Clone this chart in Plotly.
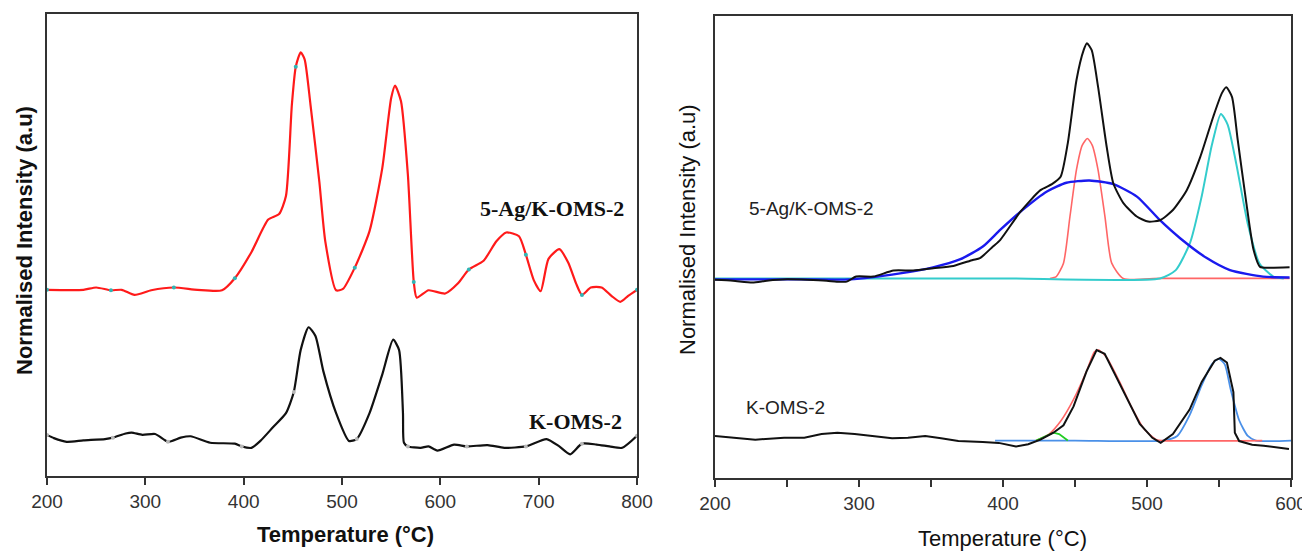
import plotly.graph_objects as go

# ---------------- Left panel data (T in °C, normalised intensity in % of plot height)
left_ag_T = [200, 237, 250, 265, 276, 289, 306, 329, 353, 378, 391, 408, 425, 436, 443, 449, 453, 458, 462, 468,
             477, 483, 494, 501, 513, 528, 541, 550, 554, 560, 567, 573, 576, 588, 605, 618, 629, 644, 657, 667,
             680, 687, 695, 702, 710, 721, 730, 738, 744, 753, 764, 774, 783, 791, 800]
left_ag_I = [40.3, 40.3, 40.8, 40.2, 40.3, 39.2, 40.2, 40.8, 40.3, 40.2, 42.8, 48.5, 55.5, 56.7, 60.6, 80.3, 88.6, 91.7, 90.2, 80.3,
             63.6, 50.8, 40.2, 40.5, 45.1, 53.0, 66.7, 81.8, 84.5, 81.1, 65.2, 42.0, 38.6, 40.2, 39.5, 41.7, 44.7, 46.6, 50.8, 52.7,
             51.9, 47.9, 42.4, 40.0, 47.0, 49.1, 46.2, 41.7, 39.2, 40.8, 40.8, 39.0, 37.7, 39.0, 40.3]

left_k_T = [200, 207, 220, 237, 259, 267, 280, 286, 297, 310, 323, 336, 346, 366, 391, 398, 408, 417, 430, 443,
            451, 458, 466, 473, 481, 494, 507, 515, 528, 541, 552, 558, 562, 563, 567, 580, 588, 597, 614, 627,
            648, 665, 687, 708, 721, 732, 744, 759, 772, 785, 800]
left_k_I = [8.9, 8.2, 7.4, 7.7, 8.0, 8.3, 9.2, 9.4, 8.9, 9.1, 7.4, 8.3, 8.6, 7.2, 7.0, 6.4, 6.1, 7.6, 10.6, 13.6,
            18.2, 27.3, 32.2, 30.3, 22.7, 13.6, 7.6, 8.0, 13.6, 22.0, 29.5, 27.3, 13.6, 7.2, 6.4, 6.1, 6.4, 5.5, 6.8, 6.4,
            6.7, 6.1, 6.4, 8.0, 6.4, 4.7, 7.0, 6.8, 6.4, 6.1, 8.7]

left_ag_mark_T = [200, 265, 329, 391, 453, 513, 573, 629, 687, 744, 800]
left_ag_mark_I = [40.3, 40.2, 40.8, 42.8, 88.6, 45.1, 42.0, 44.7, 47.9, 39.2, 40.3]
left_k_mark_T = [200, 267, 323, 398, 451, 515, 567, 627, 687, 744, 800]
left_k_mark_I = [8.9, 8.3, 7.4, 6.4, 18.2, 8.0, 6.4, 6.4, 6.4, 7.0, 8.7]

left_ticks = [200, 300, 400, 500, 600, 700, 800]

# ---------------- Right panel data
right_ag_T = [200, 212.5, 226, 236, 250, 264, 277.6, 284.5, 291.5, 298, 310, 324, 337.6, 351.6, 365.5, 379, 384, 393,
              398, 412, 426, 434, 440, 445, 451, 456, 458.3, 461.6, 466, 472, 476.6, 483.6, 492.9, 500.8, 509, 518,
              527.6, 537, 546, 552, 555, 559, 563, 569, 574, 578.5, 585, 599]
right_ag_I = [42.9, 42.7, 42.3, 42.7, 43.0, 42.9, 42.7, 42.5, 42.5, 43.6, 43.6, 44.9, 44.9, 45.4, 45.9, 47.2, 47.6, 50.1,
              51.5, 57.6, 62.3, 63.6, 65.2, 72.5, 86.1, 92.6, 94.1, 92.6, 84.7, 71.7, 63.8, 59.5, 56.6, 55.5, 55.8, 58.0,
              62.3, 69.5, 78.2, 83.3, 84.6, 82.5, 73.2, 59.5, 49.4, 45.7, 45.5, 45.6]

right_broad_T = [200, 260, 293.7, 328.5, 351.4, 370, 386, 398, 412, 430.5, 444, 460, 476.6, 493, 509, 523, 541.5, 557.6, 580.6, 599]
right_broad_I = [43.0, 43.0, 43.0, 44.3, 45.6, 47.3, 50.1, 53.7, 57.6, 62.0, 63.9, 64.4, 63.6, 60.9, 55.8, 51.9, 47.6, 45.0, 43.6, 43.4]

right_red_T = [432.6, 437, 442, 446.5, 451, 455, 458.6, 462, 466, 470.8, 475.5, 483.5, 510, 599]
right_red_I = [43.2, 43.6, 46.5, 56.6, 66.7, 72.0, 73.5, 72.0, 66.7, 56.6, 46.5, 43.2, 43.2, 43.2]

right_cyan_T = [200, 300, 400, 509, 520, 530, 538, 545, 551.3, 556, 562, 570, 578, 587.8, 595]
right_cyan_I = [43.2, 43.2, 43.2, 43.2, 45.0, 51.0, 61.0, 72.0, 78.8, 76.5, 68.0, 55.0, 46.5, 43.6, 43.2]

right_k_T = [200, 213.5, 228, 248, 262, 274, 285, 297, 311, 323, 334, 346, 357, 369, 386, 397, 409, 417.5, 426, 435,
             442, 449, 458, 465, 470.6, 478, 486.5, 495, 503.7, 509.5, 518, 529.6, 538, 547, 551, 555.5, 560, 560.5,
             561, 564, 573, 581, 590, 598.6]
right_k_I = [9.1, 8.7, 8.3, 8.7, 8.7, 9.5, 9.8, 9.5, 9.1, 8.6, 8.7, 9.1, 8.6, 8.0, 7.8, 7.6, 6.8, 7.3, 8.3, 9.8,
             11.4, 15.5, 23.1, 27.7, 26.9, 22.3, 17.0, 11.7, 8.7, 7.6, 9.5, 14.8, 20.8, 25.4, 26.0, 25.0, 18.6, 12.5,
             9.8, 8.0, 7.2, 7.0, 6.6, 6.3]

right_kred_T = [423, 432, 440.5, 449, 458, 463.5, 466.4, 472, 481, 489, 498, 506.6, 511, 580]
right_kred_I = [8.1, 9.5, 12.5, 17.0, 23.1, 27.3, 27.7, 26.1, 20.8, 15.5, 10.6, 8.3, 8.1, 8.1]

right_kblue_T = [394.5, 450, 511, 521, 529.6, 538, 545, 549.8, 554, 558, 564, 570, 575.6, 600]
right_kblue_I = [8.1, 8.1, 8.1, 9.1, 13.6, 20.1, 24.6, 25.8, 24.6, 19.3, 12.5, 9.1, 8.1, 8.1]

right_kgreen_T = [423, 429, 435, 439, 445]
right_kgreen_I = [8.1, 8.9, 9.8, 9.5, 8.1]

right_ticks = [200, 300, 400, 500, 600]

# ---------------- Page geometry (page body has an 8px margin; figure fills to the window edge)
OFF = 8
W = 1310 - OFF
H = 551 - OFF

def fx(px):
    return (px - OFF) / W

def fy(py):
    return (H - (py - OFF)) / H

# ---------------- Figure
fig = go.Figure()

# left panel
fig.add_trace(go.Scatter(x=left_ag_T, y=left_ag_I, mode="lines", line=dict(color="#ff1a1a", width=2.2, shape="spline", smoothing=0.6),
                         xaxis="x", yaxis="y", showlegend=False))
fig.add_trace(go.Scatter(x=left_ag_mark_T, y=left_ag_mark_I, mode="markers", marker=dict(color="#2fb5b5", size=4),
                         xaxis="x", yaxis="y", showlegend=False))
fig.add_trace(go.Scatter(x=left_k_T, y=left_k_I, mode="lines", line=dict(color="#111111", width=2.2, shape="spline", smoothing=0.6),
                         xaxis="x", yaxis="y", showlegend=False))
fig.add_trace(go.Scatter(x=left_k_mark_T, y=left_k_mark_I, mode="markers", marker=dict(color="#b8b8b8", size=4),
                         xaxis="x", yaxis="y", showlegend=False))

# right panel - upper
fig.add_trace(go.Scatter(x=right_red_T, y=right_red_I, mode="lines", line=dict(color="#ff6666", width=1.6, shape="spline", smoothing=0.6),
                         xaxis="x2", yaxis="y2", showlegend=False))
fig.add_trace(go.Scatter(x=right_cyan_T, y=right_cyan_I, mode="lines", line=dict(color="#33cccc", width=2, shape="spline", smoothing=0.6),
                         xaxis="x2", yaxis="y2", showlegend=False))
fig.add_trace(go.Scatter(x=right_broad_T, y=right_broad_I, mode="lines", line=dict(color="#1a1aee", width=2.4, shape="spline", smoothing=0.6),
                         xaxis="x2", yaxis="y2", showlegend=False))
fig.add_trace(go.Scatter(x=right_ag_T, y=right_ag_I, mode="lines", line=dict(color="#111111", width=2, shape="spline", smoothing=0.6),
                         xaxis="x2", yaxis="y2", showlegend=False))

# right panel - lower
fig.add_trace(go.Scatter(x=right_kblue_T, y=right_kblue_I, mode="lines", line=dict(color="#4a90e8", width=1.8, shape="spline", smoothing=0.6),
                         xaxis="x2", yaxis="y2", showlegend=False))
fig.add_trace(go.Scatter(x=right_kred_T, y=right_kred_I, mode="lines", line=dict(color="#ff6666", width=1.6, shape="spline", smoothing=0.6),
                         xaxis="x2", yaxis="y2", showlegend=False))
fig.add_trace(go.Scatter(x=right_kgreen_T, y=right_kgreen_I, mode="lines", line=dict(color="#22cc22", width=1.8),
                         xaxis="x2", yaxis="y2", showlegend=False))
fig.add_trace(go.Scatter(x=right_k_T, y=right_k_I, mode="lines", line=dict(color="#111111", width=2),
                         xaxis="x2", yaxis="y2", showlegend=False))

axis_common = dict(showgrid=False, zeroline=False, showline=True, linecolor="#333333", linewidth=2,
                   mirror=True, ticks="outside", ticklen=7, tickcolor="#333333", tickwidth=2, automargin=False)
yaxis_common = dict(range=[0, 100], showticklabels=False, showgrid=False, zeroline=False, showline=True,
                    linecolor="#333333", linewidth=2, mirror=True, ticks="", automargin=False)

fig.update_layout(
    width=W, height=H, autosize=False,
    margin=dict(l=0, r=0, t=0, b=0, pad=0, autoexpand=False),
    paper_bgcolor="white", plot_bgcolor="white",
    xaxis=dict(domain=[fx(47), fx(637)], range=[200, 800], tickvals=left_ticks,
               tickfont=dict(family="Liberation Sans, Arial", size=19, color="#333333"),
               anchor="y", **axis_common),
    yaxis=dict(domain=[fy(476), fy(14)], anchor="x", **yaxis_common),
    xaxis2=dict(domain=[fx(715), fx(1291)], range=[200, 600], tickvals=right_ticks,
                minor=dict(dtick=50, ticks="outside", ticklen=7, tickcolor="#333333", tickwidth=2),
                tickfont=dict(family="Liberation Sans, Arial", size=19, color="#333333"),
                anchor="y2", **axis_common),
    yaxis2=dict(domain=[fy(478), fy(16)], anchor="x2", **yaxis_common),
)

def paper_ann(px, py, text, size, bold=False, angle=0, family="Liberation Sans, Arial"):
    return dict(x=fx(px), y=fy(py), xref="paper", yref="paper", xanchor="center", yanchor="middle",
                text=f"<b>{text}</b>" if bold else text, showarrow=False, textangle=angle,
                font=dict(family=family, size=size, color="#111111"))

annotations = [
    # left panel curve labels
    dict(x=714, y=57.8, xref="x", yref="y", xanchor="center", yanchor="middle", text="<b>5-Ag/K-OMS-2</b>", showarrow=False,
         font=dict(family="Liberation Serif, Times New Roman", size=22, color="#111111")),
    dict(x=737, y=11.7, xref="x", yref="y", xanchor="center", yanchor="middle", text="<b>K-OMS-2</b>", showarrow=False,
         font=dict(family="Liberation Serif, Times New Roman", size=22, color="#111111")),
    # right panel curve labels
    dict(x=266.7, y=58.4, xref="x2", yref="y2", xanchor="center", yanchor="middle", text="5-Ag/K-OMS-2", showarrow=False,
         font=dict(family="Liberation Sans, Arial", size=19, color="#222222")),
    dict(x=249, y=15.2, xref="x2", yref="y2", xanchor="center", yanchor="middle", text="K-OMS-2", showarrow=False,
         font=dict(family="Liberation Sans, Arial", size=19, color="#222222")),
    # axis titles
    paper_ann(345, 534, "Temperature (°C)", 22, bold=True),
    paper_ann(24, 241, "Normalised Intensity (a.u)", 22, bold=True, angle=-90),
    paper_ann(1002, 538, "Temperature (°C)", 22),
    paper_ann(688, 230, "Normalised Intensity (a.u)", 22, angle=-90),
]
fig.update_layout(annotations=annotations)

fig.write_html("out.html")
